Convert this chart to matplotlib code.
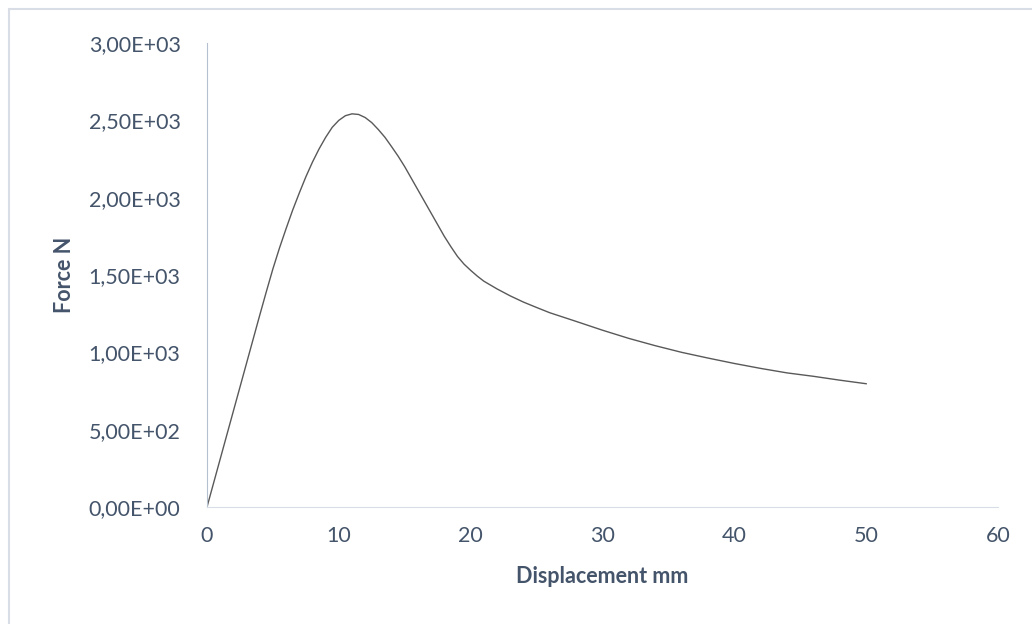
import matplotlib.pyplot as plt
from matplotlib.patches import Rectangle
from matplotlib.ticker import FuncFormatter

# values
displacement = [0, 1, 2, 3, 4, 4.5, 5, 5.5, 6, 6.5, 7, 7.5, 8, 8.5, 9, 9.5, 10, 10.5, 11,
                11.5, 12, 12.5, 13, 13.5, 14, 14.5, 15, 16, 17, 18, 18.5, 19, 19.5, 20,
                20.5, 21, 22, 23, 24, 25, 26, 28, 30, 32, 34, 36, 38, 40, 42, 44, 46, 48, 50]
force = [0, 310, 620, 930, 1240, 1392, 1540, 1675, 1800, 1920, 2030, 2135, 2230, 2315,
         2390, 2455, 2500, 2530, 2542, 2538, 2518, 2485, 2440, 2390, 2330, 2268, 2200,
         2050, 1900, 1750, 1683, 1620, 1570, 1530, 1493, 1460, 1410, 1365, 1325, 1290,
         1256, 1200, 1143, 1090, 1043, 1000, 963, 928, 896, 867, 845, 820, 797]

x_ticks = [0, 10, 20, 30, 40, 50, 60]
y_ticks = [0, 500, 1000, 1500, 2000, 2500, 3000]

text_col = "#44546A"
axis_col = "#B4BFD0"

plt.rcParams['font.family'] = ['Lato', 'DejaVu Sans']

fig = plt.figure(figsize=(10.32, 6.24), dpi=100)
W, H = 1032, 624
# outer chart border (runs off right/bottom edge)
fig.patches.append(Rectangle((9 / W, -0.1), 1.2, 1 - 9 / H + 0.1, transform=fig.transFigure,
                             fill=False, edgecolor="#D9DEE6", lw=1.5))

ax = fig.add_axes([207 / W, 1 - 507 / H, (998 - 207) / W, (507 - 43) / H])
ax.plot(displacement, force, color="#595959", lw=1.0)

ax.set_xlim(0, 60)
ax.set_ylim(0, 3000)
ax.set_xticks(x_ticks)
ax.set_yticks(y_ticks)


def sci_comma(v, pos):
    s = "{:.2E}".format(v)
    return s.replace(".", ",")


ax.yaxis.set_major_formatter(FuncFormatter(sci_comma))

for side in ["top", "right"]:
    ax.spines[side].set_visible(False)
ax.spines["left"].set_color(axis_col)
ax.spines["bottom"].set_color("#D9DEE6")
ax.tick_params(axis="both", length=0, labelsize=15.5, colors=text_col)
ax.tick_params(axis="x", pad=14)
ax.tick_params(axis="y", pad=19)

ax.set_xlabel("Displacement mm", fontsize=15.5, fontweight="bold", color=text_col, labelpad=14)
ax.set_ylabel("Force N", fontsize=15.5, fontweight="bold", color=text_col, labelpad=10)

fig.savefig("out.png", dpi=100)
